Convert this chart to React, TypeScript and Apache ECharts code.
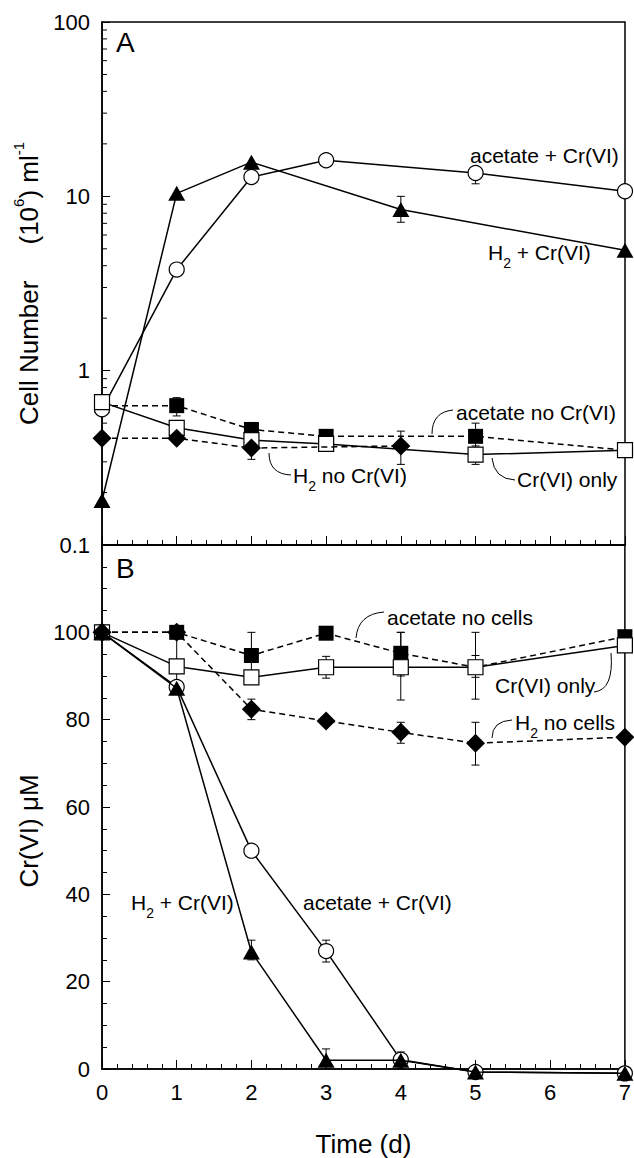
import React, { useEffect, useRef } from "react";
import * as echarts from "echarts";

const FONT = "'Liberation Sans', Arial, Helvetica, sans-serif";

// x axis (days)
const dayTicks = [0, 1, 2, 3, 4, 5, 6, 7];
// panel A log-axis minor tick values
const cellMinorTicks = [0.2, 0.3, 0.4, 0.5, 0.6, 0.7, 0.8, 0.9, 2, 3, 4, 5, 6, 7, 8, 9, 20, 30, 40, 50, 60, 70, 80, 90];

// Panel A: cell number (10^6 / ml)
const cellsAcetateCr = [[0, 0.6], [1, 3.8], [2, 12.9], [3, 16.1], [5, 13.6], [7, 10.7]];
const cellsH2Cr = [[0, 0.18], [1, 10.4], [2, 15.7], [4, 8.4], [7, 4.9]];
const cellsAcetateNoCr = [[0, 0.63], [1, 0.63], [2, 0.46], [3, 0.42], [5, 0.42], [7, 0.35]];
const cellsCrOnly = [[0, 0.66], [1, 0.47], [2, 0.4], [3, 0.38], [5, 0.33], [7, 0.35]];
const cellsH2NoCr = [[0, 0.41], [1, 0.41], [2, 0.36], [4, 0.37]];

// Panel A error bars [day, low, high]
const cellsErrH2Cr = [[4, 7.1, 10]];
const cellsErrAcetateCr = [[5, 11.8, 14.5]];
const cellsErrAcetateNoCr = [[1, 0.55, 0.7], [5, 0.36, 0.5]];
const cellsErrCrOnly = [[5, 0.29, 0.37]];
const cellsErrH2NoCr = [[2, 0.31, 0.4], [4, 0.29, 0.45]];

// Panel B: Cr(VI) uM
const crAcetateCr = [[0, 100], [1, 87.5], [2, 50], [3, 27], [4, 2.1], [5, -0.7], [7, -1]];
const crH2Cr = [[0, 100], [1, 87.2], [2, 26.8], [3, 2], [4, 2], [5, -0.7], [7, -1]];
const crAcetateNoCells = [[0, 100], [1, 100], [2, 94.7], [3, 99.8], [4, 95.2], [5, 92], [7, 99]];
const crCrOnly = [[0, 100], [1, 92.2], [2, 89.7], [3, 92], [4, 92], [5, 92], [7, 97]];
const crH2NoCells = [[0, 100], [1, 100], [2, 82.4], [3, 79.7], [4, 77.1], [5, 74.6], [7, 76]];

// Panel B error bars [day, low, high]
const crErrAcetateCr = [[3, 24.5, 29.5], [4, 0, 3.9]];
const crErrH2Cr = [[2, 25, 29.5], [3, 0, 4.6]];
const crErrAcetateNoCells = [[2, 89.5, 100], [4, 90, 100], [5, 89.7, 94.7]];
const crErrCrOnly = [[1, 86, 99], [3, 89.5, 94.5], [4, 84.5, 100], [5, 84.7, 100]];
const crErrH2NoCells = [[2, 80, 84.7], [4, 74.6, 79.4], [5, 69.6, 79.4]];

const GRID_LEFT = 102;
const GRID_W = 523;

function lineSeries(name: string, data: number[][], g: number, symbol: string, filled: boolean, dashed: boolean, size: any, z: number) {
  return {
    type: "line",
    name,
    data,
    xAxisIndex: g,
    yAxisIndex: g,
    symbol,
    symbolSize: size,
    showAllSymbol: true,
    clip: false,
    z,
    lineStyle: { color: "#000", width: 1.5, type: dashed ? [6, 4] : "solid" },
    itemStyle: { color: filled ? "#000" : "#fff", borderColor: "#000", borderWidth: filled ? 0 : 1.2, opacity: 1 },
    emphasis: { disabled: true },
  };
}

function errSeries(data: number[][], g: number) {
  return {
    type: "custom",
    xAxisIndex: g,
    yAxisIndex: g,
    data,
    encode: { x: 0, y: [1, 2] },
    z: 1,
    clip: false,
    silent: true,
    renderItem: (params: any, api: any) => {
      const x = api.value(0);
      const lo = api.coord([x, api.value(1)]);
      const hi = api.coord([x, api.value(2)]);
      const c = 4;
      const st = { stroke: "#000", lineWidth: 1 };
      return {
        type: "group",
        children: [
          { type: "line", shape: { x1: lo[0], y1: lo[1], x2: hi[0], y2: hi[1] }, style: st },
          { type: "line", shape: { x1: lo[0] - c, y1: lo[1], x2: lo[0] + c, y2: lo[1] }, style: st },
          { type: "line", shape: { x1: hi[0] - c, y1: hi[1], x2: hi[0] + c, y2: hi[1] }, style: st },
        ],
      };
    },
  };
}

const axisLine = { show: true, lineStyle: { color: "#000", width: 1.5 } };
const labelStyle = { color: "#000", fontFamily: FONT, fontSize: 22 };

const txt = (x: number, y: number, text: string, extra: any = {}) => ({
  type: "text",
  x,
  y,
  z: 100,
  style: {
    text,
    fill: "#000",
    fontFamily: FONT,
    fontSize: 21,
    verticalAlign: "middle",
    lineHeight: 36,
    rich: {
      sub: { fontSize: 14, fontFamily: FONT, lineHeight: 12, verticalAlign: "bottom" },
    },
    ...extra,
  },
});

const curve = (x1: number, y1: number, cpx: number, cpy: number, x2: number, y2: number) => ({
  type: "bezierCurve",
  z: 100,
  shape: { x1, y1, cpx1: cpx, cpy1: cpy, x2, y2 },
  style: { stroke: "#000", lineWidth: 1, fill: null },
});

export default function App() {
  const ref = useRef<HTMLDivElement>(null);
  useEffect(() => {
    document.body.style.margin = "0";
    const chart = echarts.init(ref.current!, null, { renderer: "svg" });
    const option: any = {
      animation: false,
      backgroundColor: "#fff",
      grid: [
        { left: GRID_LEFT, top: 22, width: GRID_W, height: 523, show: true, borderColor: "#000", borderWidth: 1.5, backgroundColor: "transparent" },
        { left: GRID_LEFT, top: 545, width: GRID_W, height: 524, show: true, borderColor: "#000", borderWidth: 1.5, backgroundColor: "transparent" },
      ],
      xAxis: [
        {
          type: "value", gridIndex: 0, min: 0, max: 7, interval: 1,
          axisLine, axisTick: { show: true, inside: true, length: 9, lineStyle: { color: "#000" } },
          minorTick: { show: true, splitNumber: 5, length: 5, lineStyle: { color: "#000" } },
          axisLabel: { show: false }, splitLine: { show: false },
        },
        {
          type: "value", gridIndex: 1, min: 0, max: 7, interval: 1,
          axisLine, axisTick: { show: true, inside: true, length: 9, lineStyle: { color: "#000" } },
          minorTick: { show: true, splitNumber: 5, length: 5, lineStyle: { color: "#000" } },
          axisLabel: { ...labelStyle, margin: 12, formatter: (v: number) => (dayTicks.includes(v) ? String(v) : "") },
          splitLine: { show: false },
          name: "Time (d)", nameLocation: "middle", nameGap: 62,
          nameTextStyle: { color: "#000", fontFamily: FONT, fontSize: 26 },
        },
      ],
      yAxis: [
        {
          type: "log", gridIndex: 0, min: 0.1, max: 100, logBase: 10,
          axisLine, axisTick: { show: true, inside: true, length: 8, lineStyle: { color: "#000" } },
          axisLabel: { ...labelStyle, margin: 12 }, splitLine: { show: false },
          name: "{t|Cell Number}     {t|(10}{sup|6}{t|) ml}{sup|-1}",
          nameLocation: "middle", nameRotate: 90, nameGap: 54,
          nameTextStyle: {
            color: "#000", fontFamily: FONT, fontSize: 26,
            rich: {
              t: { fontSize: 26, fontFamily: FONT, color: "#000", lineHeight: 36 },
              sup: { fontSize: 15, fontFamily: FONT, color: "#000", lineHeight: 12, verticalAlign: "top" },
            },
          },
        },
        {
          type: "value", gridIndex: 1, min: 0, max: 120, interval: 20,
          axisLine, axisTick: { show: true, inside: true, length: 8, lineStyle: { color: "#000" } },
          minorTick: { show: true, splitNumber: 4, length: 5, lineStyle: { color: "#000" } },
          axisLabel: { ...labelStyle, margin: 12, formatter: (v: number) => (v > 100 ? "" : String(v)) },
          splitLine: { show: false },
          name: "Cr(VI) μM", nameLocation: "middle", nameRotate: 90, nameGap: 60,
          nameTextStyle: { color: "#000", fontFamily: FONT, fontSize: 26, padding: [0, 48, 0, 0] },
        },
      ],
      series: [
        {
          type: "custom", xAxisIndex: 0, yAxisIndex: 0, silent: true, z: 1,
          data: cellMinorTicks.map((v) => [0, v]),
          encode: { x: 0, y: 1 },
          renderItem: (params: any, api: any) => {
            const p = api.coord([0, api.value(1)]);
            return { type: "line", shape: { x1: p[0], y1: p[1], x2: p[0] + 5, y2: p[1] }, style: { stroke: "#000", lineWidth: 1 } };
          },
        },
        errSeries(cellsErrH2Cr, 0),
        errSeries(cellsErrAcetateCr, 0),
        errSeries(cellsErrAcetateNoCr, 0),
        errSeries(cellsErrCrOnly, 0),
        errSeries(cellsErrH2NoCr, 0),
        lineSeries("acetate no Cr(VI)", cellsAcetateNoCr, 0, "rect", true, true, 15, 3),
        lineSeries("acetate + Cr(VI)", cellsAcetateCr, 0, "circle", false, false, 15, 4),
        lineSeries("Cr(VI) only", cellsCrOnly, 0, "rect", false, false, 15, 5),
        lineSeries("H2 no Cr(VI)", cellsH2NoCr, 0, "diamond", true, true, 19, 6),
        lineSeries("H2 + Cr(VI)", cellsH2Cr, 0, "triangle", true, false, [17, 15], 7),

        errSeries(crErrAcetateCr, 1),
        errSeries(crErrH2Cr, 1),
        errSeries(crErrAcetateNoCells, 1),
        errSeries(crErrCrOnly, 1),
        errSeries(crErrH2NoCells, 1),
        lineSeries("acetate no cells", crAcetateNoCells, 1, "rect", true, true, 15, 3),
        lineSeries("acetate + Cr(VI) B", crAcetateCr, 1, "circle", false, false, 15, 4),
        lineSeries("Cr(VI) only B", crCrOnly, 1, "rect", false, false, 15, 5),
        lineSeries("H2 no cells", crH2NoCells, 1, "diamond", true, true, 19, 6),
        lineSeries("H2 + Cr(VI) B", crH2Cr, 1, "triangle", true, false, [17, 15], 7),
      ],
      graphic: [
        txt(116, 42, "A", { fontSize: 28 }),
        txt(116, 568, "B", { fontSize: 28 }),
        // panel A annotations
        txt(470, 155, "acetate + Cr(VI)"),
        txt(488, 252, "H{sub|2} + Cr(VI)"),
        txt(456, 412, "acetate no Cr(VI)"),
        curve(432, 434, 432, 412, 453, 410),
        txt(293, 475, "H{sub|2} no Cr(VI)"),
        curve(269, 453, 269, 474, 291, 475),
        txt(517, 479, "Cr(VI) only"),
        curve(492, 458, 494, 479, 515, 480),
        // panel B annotations
        txt(387, 617, "acetate no cells"),
        curve(356, 638, 358, 614, 384, 612),
        txt(495, 685, "Cr(VI) only"),
        curve(594, 692, 614, 690, 611, 653),
        txt(515, 722, "H{sub|2} no cells"),
        curve(492, 738, 492, 721, 512, 720),
        txt(131, 902, "H{sub|2} + Cr(VI)"),
        txt(303, 902, "acetate + Cr(VI)"),
      ],
    };
    chart.setOption(option);
    return () => chart.dispose();
  }, []);
  return <div ref={ref} style={{ width: 634, height: 1158 }} />;
}
